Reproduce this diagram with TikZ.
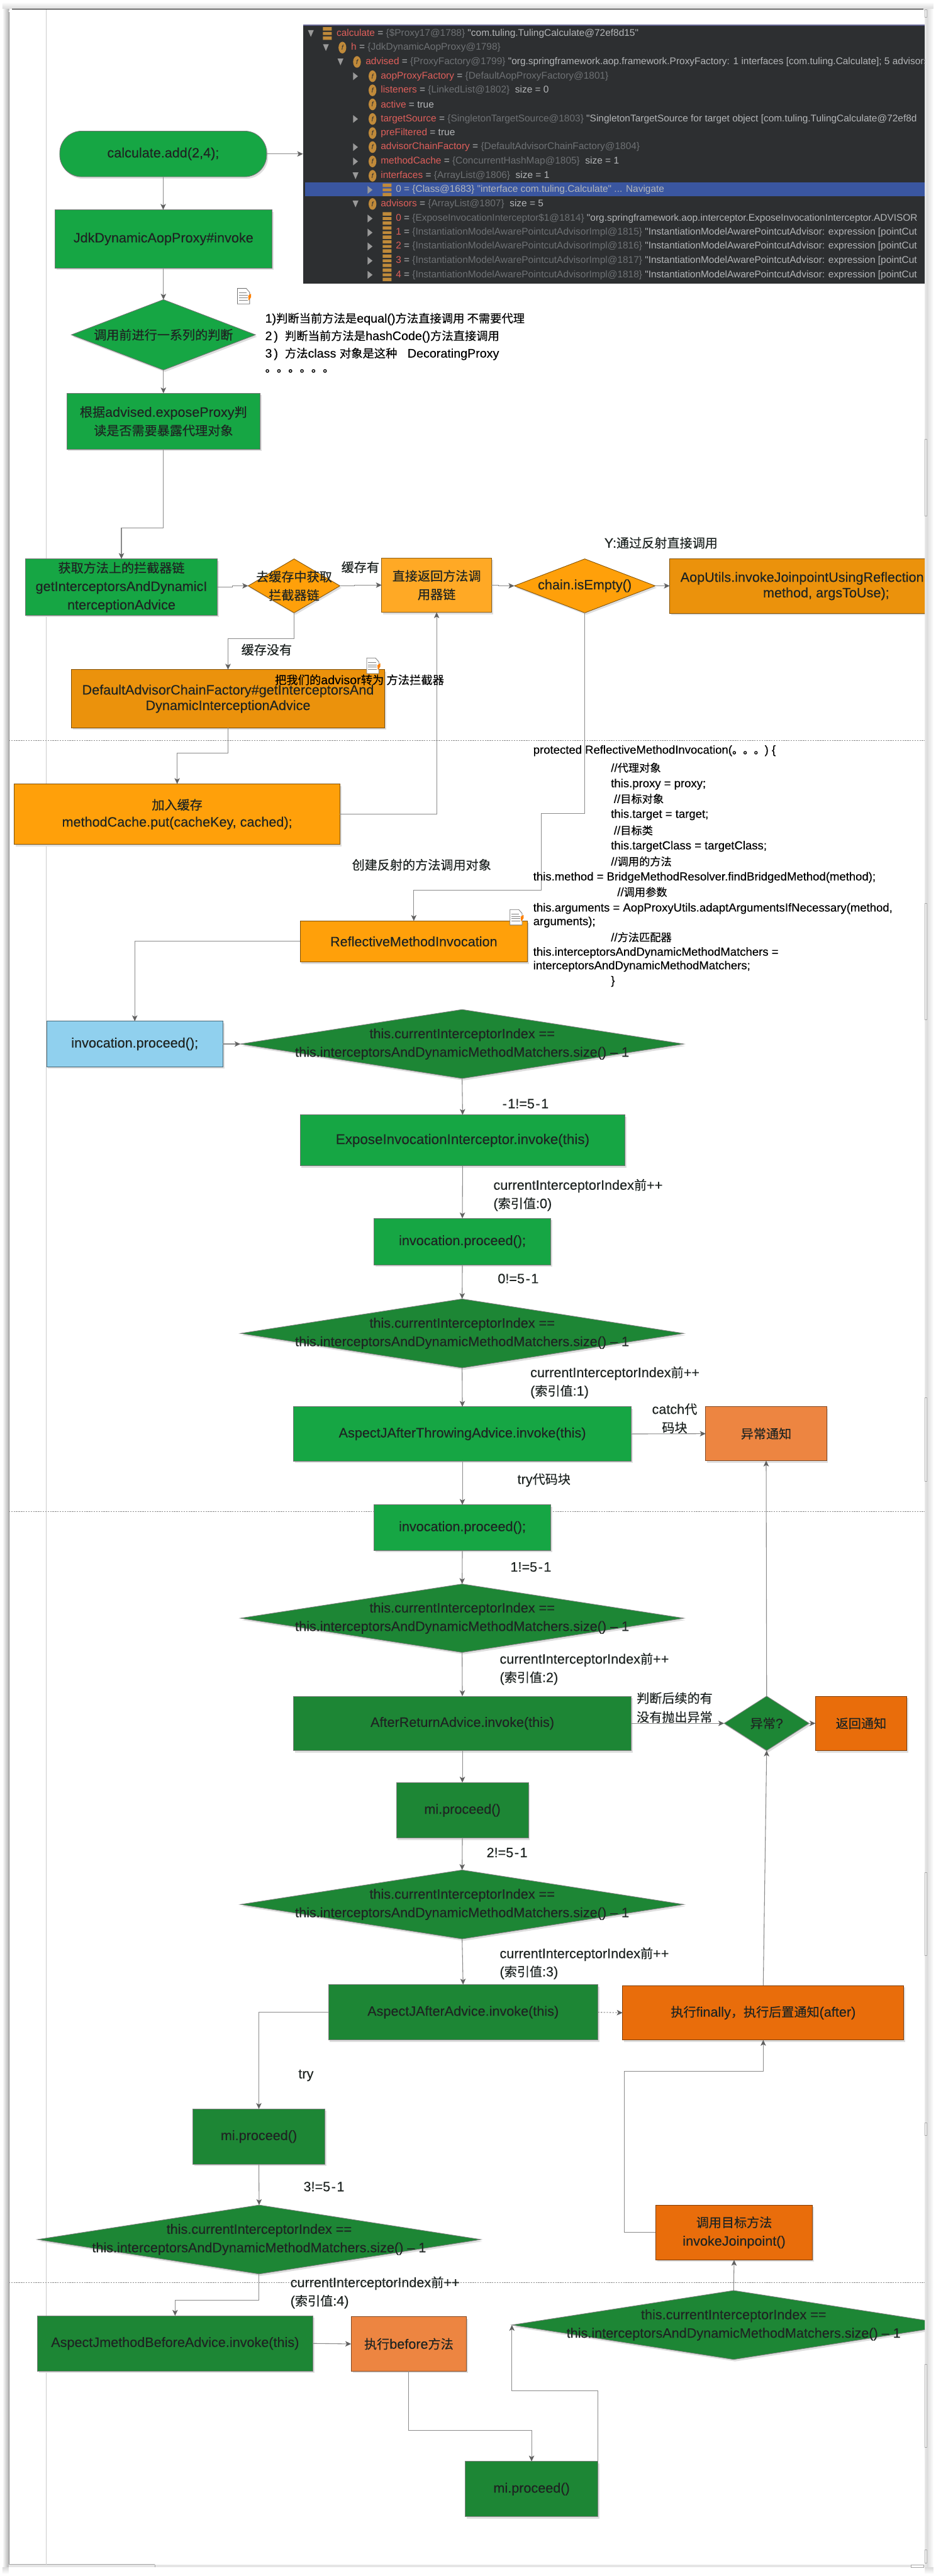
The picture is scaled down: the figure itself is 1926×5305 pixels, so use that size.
\documentclass[tikz,border=0pt]{standalone}
\usepackage{fontspec}
\usetikzlibrary{shapes.geometric,arrows.meta,shadows}
\setmainfont[FakeBold=0.25]{Liberation Sans}
\newfontfamily\panelfont{Liberation Sans}
\newfontfamily\cjkfont[Scale=0.93,FakeBold=0.3]{Noto Sans CJK SC}
\newcommand\zh[1]{{\cjkfont #1}}
\newcommand\fs[2]{\fontsize{#1}{#2}\selectfont}
\newcommand\hy{\hspace{.07em}-\hspace{.07em}}
\definecolor{gbright}{HTML}{16A644}
\definecolor{gdark}{HTML}{1D8635}
\definecolor{obright}{HTML}{FFA00A}
\definecolor{omid}{HTML}{EB920C}
\definecolor{olight}{HTML}{FFA925}
\definecolor{odeep}{HTML}{E96D0B}
\definecolor{opeach}{HTML}{ED8541}
\definecolor{skyb}{HTML}{90D0EE}
\definecolor{linegr}{HTML}{8A8A8A}
\definecolor{inkt}{HTML}{1E2422}
\definecolor{panelbg}{HTML}{2D2F31}
\definecolor{pred}{HTML}{DE5F5B}
\definecolor{pgrey}{HTML}{6E7174}
\definecolor{pwhite}{HTML}{B4B6B8}
\definecolor{pgold}{HTML}{C08A3A}
\definecolor{pblue}{HTML}{3A56A0}
\tikzset{
  x=1pt,y=-1pt,
  boxbase/.style={inner sep=0pt,outer sep=0pt,align=center,text=inkt,line width=1.1pt,
    general shadow={shadow xshift=3pt,shadow yshift=-4pt,fill=black!13,draw=none},
    font=\fs{28}{38}},
  gb/.style={boxbase,fill=gbright,draw=black!55},
  gd/.style={boxbase,fill=gdark,draw=black!50},
  ob/.style={boxbase,fill=obright,draw=black!50!obright},
  om/.style={boxbase,fill=omid,draw=black!45!omid},
  ol/.style={boxbase,fill=olight,draw=black!45!olight},
  od/.style={boxbase,fill=odeep,draw=black!45!odeep},
  op/.style={boxbase,fill=opeach,draw=black!45!opeach},
  sk/.style={boxbase,fill=skyb,draw=black!50!skyb},
  conn/.style={draw=linegr,line width=1.4pt,-{Stealth[length=12pt,width=11pt,inset=3pt,color=black!62]}},
  sep/.style={draw=black!45,line width=0.8pt,dash pattern=on 3pt off 2pt},
  lab/.style={inner sep=0pt,outer sep=0pt,text=inkt,font=\fs{28}{38},align=left},
  note/.style={inner sep=0pt,outer sep=0pt,text=black,font=\fs{25.5}{36},anchor=west},
  code/.style={inner sep=0pt,outer sep=0pt,text=black,font=\fs{24}{30},anchor=west},
  pt/.style={inner sep=0pt,outer sep=0pt,anchor=west,font=\panelfont\fs{20}{24},text=pwhite},
  edgebit/.style={fill=white,draw=black!35,line width=0.9pt},
}
\newcommand\bx[7]{%
  \pgfmathsetmacro\cxv{(#3+#5)/2}\pgfmathsetmacro\cyv{(#4+#6)/2}%
  \pgfmathsetmacro\wv{#5-#3}\pgfmathsetmacro\hv{#6-#4}%
  \node[#1,minimum width=\wv pt,minimum height=\hv pt] (#2) at (\cxv,\cyv) {#7};}
\newcommand\dm[7]{%
  \pgfmathsetmacro\cxv{(#3+#5)/2}\pgfmathsetmacro\cyv{(#4+#6)/2}%
  \pgfmathsetmacro\wv{#5-#3}\pgfmathsetmacro\hv{#6-#4}%
  \node[#1,shape=diamond,shape aspect=1,minimum width=\wv pt,minimum height=\hv pt] (#2) at (\cxv,\cyv) {};
  \node[inner sep=0pt,outer sep=0pt,align=center,text=inkt,font=\fs{28}{38}] (#2t) at (\cxv,\cyv) {#7};}
\newcommand\cond[4]{\dm{gd}{#1}{#2}{#3}{#2+913}{#4}{this.currentInterceptorIndex ==\\this.interceptorsAndDynamicMethodMatchers.size() -- 1}}
\newcommand\lb[4]{\node[lab] (#1) at (#2,#3) {#4};}
\newcommand\nt[4]{\node[note] (#1) at (#2,#3) {#4};}
\newcommand\cd[4]{\node[code] (#1) at (#2,#3) {#4};}
\newcommand\idx[5]{\node[lab,anchor=west] (#1a) at (#2,#3) {currentInterceptorIndex\zh{前}++};\node[lab,anchor=west] (#1b) at (#2,#4) {(\zh{索引值}:#5)};}
\newcommand\noteicon[2]{\begin{scope}[shift={(#1,#2)}]
  \fill[white,draw=black!55,line width=1pt] (0,0) -- (18,0) -- (25,8) -- (25,32) -- (0,32) -- cycle;
  \draw[black!50,line width=1.2pt] (3,9) -- (19,9) (3,14) -- (21,14) (3,19) -- (21,19) (3,24) -- (21,24);
  \fill[orange] (22,15) -- (28,11) -- (28,18) -- (23,25) -- cycle;
  \end{scope}}
\newcommand\ptri[2]{\fill[black!40] (#1-5,#2-8) -- (#1+5,#2) -- (#1-5,#2+8) -- cycle;}
\newcommand\dtri[2]{\fill[black!40] (#1-6,#2-7) -- (#1+6,#2-7) -- (#1,#2+7) -- cycle;}
\newcommand\ficon[2]{\fill[pgold] (#1,#2) ellipse [x radius=8pt,y radius=12pt];\node[inner sep=0pt,font=\panelfont\fs{14}{16}\itshape,text=panelbg] at (#1,#2) {f};}
\newcommand\sicon[2]{\fill[pgold] (#1-9,#2-13) rectangle (#1+9,#2-6) (#1-9,#2-3) rectangle (#1+9,#2+3) (#1+9,#2+6) rectangle (#1-9,#2+13);}
\newcommand\pr[4]{\node[pt] (#1) at (#2,#3) {#4};}
\newcommand\pn[1]{\textcolor{pred}{#1}}
\newcommand\pg[1]{\textcolor{pgrey}{#1}}
\begin{document}
\begin{tikzpicture}
\useasboundingbox (0,0) rectangle (1926,5305);
\fill[white] (0,0) rectangle (1926,5305);
% window shadow
\shade[left color=white,right color=black!32] (5,8) rectangle (19,5300);
\shade[left color=black!14,right color=white] (1908,8) rectangle (1922,5300);
\shade[top color=black!14,bottom color=white] (5,5287) rectangle (1922,5301);
\shade[top color=white,bottom color=black!14] (5,4) rectangle (1922,18);
\fill[white!90!black] (18,5270) rectangle (1908,5287);
\fill[white!90!black] (1890,18) rectangle (1908,5287);
\fill[white,rounded corners=6pt] (18,18) -- (1904,18) -- (1904,5400) -- (18,5400) -- cycle;
\fill[white!90!black] (18,5281) rectangle (1908,5287);
\draw[black!50,line width=1.1pt] (18.5,24) -- (18.5,5281);
\draw[black!35,line width=1.1pt] (18,5281.5) -- (319,5281.5);
\foreach \ya/\yb in {20/35,905/1063,1860/2100,2878/3050,3856/4027,4371/4398,4869/5040,5251/5278}
  \draw[edgebit] (1904.5,\ya) rectangle (1908,\yb);
\draw[edgebit] (1876,5281.5) rectangle (1902,5287);
\draw[edgebit] (319,5281.5) -- (319,5287);
\begin{scope}
\clip (18,18) rectangle (1904,5281);
\draw[black,line width=1.4pt] (25,18.7) -- (1901,18.7);
\draw[black!20,line width=1pt] (94.5,19) -- (94.5,5281);
\draw[sep] (18,1525) -- (1904,1525);
\draw[sep] (18,3113) -- (1904,3113);
\draw[sep] (18,4700) -- (1904,4700);

% debugger panel
\node[fill=panelbg,inner sep=0pt,outer sep=0pt,minimum width=1280pt,minimum height=534pt] (panel) at (1264,317) {};
\fill[black!70!blue!60] (624,50) rectangle (1904,53);
\fill[pblue] (628,375) rectangle (1904,404);
\dtri{640}{69}\sicon{674}{69}
\pr{p1}{693}{69}{\pn{calculate} = \pg{\{\$Proxy17@1788\}} "com.tuling.TulingCalculate@72ef8d15"}
\dtri{671}{98}\ficon{705}{98}
\pr{p2}{723}{98}{\pn{h} = \pg{\{JdkDynamicAopProxy@1798\}}}
\dtri{701}{127.5}\ficon{735}{127.5}
\pr{p3}{753}{127.5}{\pn{advised} = \pg{\{ProxyFactory@1799\}} "org.springframework.aop.framework.ProxyFactory: 1 interfaces [com.tuling.Calculate]; 5 advisors}
\ptri{732}{157}\ficon{767}{157}
\pr{p4}{784}{157}{\pn{aopProxyFactory} = \pg{\{DefaultAopProxyFactory@1801\}}}
\ficon{767}{186}
\pr{p5}{784}{186}{\pn{listeners} = \pg{\{LinkedList@1802\}}\ \ size = 0}
\ficon{767}{215}
\pr{p6}{784}{215}{\pn{active} = true}
\ptri{732}{245}\ficon{767}{245}
\pr{p7}{784}{245}{\pn{targetSource} = \pg{\{SingletonTargetSource@1803\}} "SingletonTargetSource for target object [com.tuling.TulingCalculate@72ef8d}
\ficon{767}{274}
\pr{p8}{784}{274}{\pn{preFiltered} = true}
\ptri{732}{303}\ficon{767}{303}
\pr{p9}{784}{303}{\pn{advisorChainFactory} = \pg{\{DefaultAdvisorChainFactory@1804\}}}
\ptri{732}{332.5}\ficon{767}{332.5}
\pr{p10}{784}{332.5}{\pn{methodCache} = \pg{\{ConcurrentHashMap@1805\}}\ \ size = 1}
\dtri{732}{362}\ficon{767}{362}
\pr{p11}{784}{362}{\pn{interfaces} = \pg{\{ArrayList@1806\}}\ \ size = 1}
\ptri{762}{391}\sicon{797}{391}
\pr{p12}{815}{391}{0 = \{Class@1683\} "interface com.tuling.Calculate" ... Navigate}
\dtri{732}{420}\ficon{767}{420}
\pr{p13}{784}{420}{\pn{advisors} = \pg{\{ArrayList@1807\}}\ \ size = 5}
\ptri{762}{450}\sicon{797}{450}
\pr{p14}{815}{450}{\pn{0} = \pg{\{ExposeInvocationInterceptor\$1@1814\}} "org.springframework.aop.interceptor.ExposeInvocationInterceptor.ADVISOR}
\ptri{762}{479}\sicon{797}{479}
\pr{p15}{815}{479}{\pn{1} = \pg{\{InstantiationModelAwarePointcutAdvisorImpl@1815\}} "InstantiationModelAwarePointcutAdvisor: expression [pointCut}
\ptri{762}{507.5}\sicon{797}{507.5}
\pr{p16}{815}{507.5}{\pn{2} = \pg{\{InstantiationModelAwarePointcutAdvisorImpl@1816\}} "InstantiationModelAwarePointcutAdvisor: expression [pointCut}
\ptri{762}{537}\sicon{797}{537}
\pr{p17}{815}{537}{\pn{3} = \pg{\{InstantiationModelAwarePointcutAdvisorImpl@1817\}} "InstantiationModelAwarePointcutAdvisor: expression [pointCut}
\ptri{762}{566}\sicon{797}{566}
\pr{p18}{815}{566}{\pn{4} = \pg{\{InstantiationModelAwarePointcutAdvisorImpl@1818\}} "InstantiationModelAwarePointcutAdvisor: expression [pointCut}

% top flow
\bx{gb,rounded corners=45pt}{start}{123}{270}{549}{364}{calculate.add(2,4);}
\bx{gb}{jdk}{113}{432}{560}{552}{JdkDynamicAopProxy\#invoke}
\dm{gb}{d1}{147}{617}{526}{762}{\zh{调用前进行一系列的判断}}
\bx{gb}{gen}{137.5}{810}{535.5}{925}{\zh{根据}advised.exposeProxy\zh{判}\\\zh{读是否需要暴露代理对象}}
\bx{gb}{getint}{52}{1151}{448}{1267}{\zh{获取方法上的拦截器链}\\getInterceptorsAndDynamicI\\nterceptionAdvice}
\dm{ob}{cached}{511}{1151}{700}{1262}{\zh{去缓存中获取}\\\zh{拦截器链}}
\bx{ol}{direct}{786}{1149}{1012}{1261}{\zh{直接返回方法调}\\\zh{用器链}}
\dm{ob}{chain}{1059}{1151}{1349}{1262}{chain.isEmpty()}
\bx{om}{aop}{1379}{1151}{2023}{1263}{}
\node[inner sep=0pt,outer sep=0pt,anchor=west,text=inkt,font=\fs{28}{38}] (aopa) at (1401,1191) {AopUtils.invokeJoinpointUsingReflection};
\node[inner sep=0pt,outer sep=0pt,text=inkt,font=\fs{28}{38}] (aopb) at (1701,1223) {method, argsToUse);};
\bx{om,font=\fs{28}{32}}{def}{147}{1379}{792}{1499}{DefaultAdvisorChainFactory\#getInterceptorsAnd\\DynamicInterceptionAdvice}
\bx{ob,font=\fs{28}{35}}{add}{29.5}{1614.5}{700}{1739}{\zh{加入缓存}\\methodCache.put(cacheKey, cached);}
\bx{ob}{refl}{618}{1896.5}{1086}{1981}{ReflectiveMethodInvocation}
\bx{sk}{inv}{96}{2103}{459}{2197}{invocation.proceed();}
\cond{d2}{495}{2079}{2221}
\bx{gb,font=\fs{29}{38}}{expose}{618}{2296}{1287}{2401}{ExposeInvocationInterceptor.invoke(this)}
\bx{gb}{proc1}{770}{2509}{1134}{2605}{invocation.proceed();}
\cond{d3}{495}{2675}{2817}
\bx{gb}{ath}{604}{2897}{1300}{3009}{AspectJAfterThrowingAdvice.invoke(this)}
\bx{op}{exc}{1453}{2897}{1702}{3008}{\zh{异常通知}}
\bx{gb}{proc2}{770}{3099}{1134}{3193}{invocation.proceed();}
\cond{d4}{495}{3262}{3403}
\bx{gd}{after}{604}{3493}{1300}{3605}{AfterReturnAdvice.invoke(this)}
\dm{gd}{excq}{1491}{3493}{1666}{3605}{\zh{异常}?}
\bx{od}{ret}{1679}{3493}{1867}{3605}{\zh{返回通知}}
\bx{gd}{mi1}{816}{3671}{1088}{3785}{mi.proceed()}
\cond{d5}{495}{3851}{3993}
\bx{gd}{aft}{676}{4087}{1231}{4201}{AspectJAfterAdvice.invoke(this)}
\bx{od}{fin}{1282}{4089}{1861}{4201}{\zh{执行}finally\zh{，执行后置通知}(after)}
\bx{gd}{mi2}{397}{4343}{669}{4457}{mi.proceed()}
\cond{d6}{77}{4541}{4683}
\bx{gd}{bef}{77}{4769}{644}{4883}{AspectJmethodBeforeAdvice.invoke(this)}
\bx{op}{before}{723}{4771}{960.5}{4883}{\zh{执行}before\zh{方法}}
\bx{gd}{mi3}{958}{5069}{1231}{5183}{mi.proceed()}
\cond{d7}{1054}{4717}{4859}
\bx{od}{call}{1350}{4541}{1673}{4654}{\zh{调用目标方法}\\invokeJoinpoint()}

% connectors
\draw[conn] (start.east) -- (panel.west |- start.east);
\draw[conn] (start.south) -- (jdk.north -| start.south);
\draw[conn] (jdk.south -| d1.north) -- (d1.north);
\draw[conn] (d1.south) -- (gen.north -| d1.south);
\draw[conn] (gen.south) -- ++(0,162) -| (getint.north);
\draw[conn] (getint.east) -- ++(30,0) |- (cached.west);
\draw[conn] (cached.east) -- ++(30,0) |- (direct.west);
\draw[conn] (direct.east) -- ++(14,0) |- (chain.west);
\draw[conn] (chain.east) -- (aop.west |- chain.east);
\draw[conn] (cached.south) -- ++(0,53) -| (def.north);
\draw[conn] (def.south) -- ++(0,52) -| (add.north);
\draw[conn] (add.east) -| (direct.south);
\draw[conn] (chain.south) -- ++(0,413) -- ++(-90,0) -- ++(0,158) -| (refl.north);
\draw[conn] (refl.west) -| (inv.north);
\draw[conn] (inv.east) -- (d2.west);
\draw[conn] (d2.south) -- (expose.north);
\draw[conn] (expose.south) -- (proc1.north);
\draw[conn] (proc1.south) -- (d3.north);
\draw[conn] (d3.south) -- (ath.north);
\draw[conn] (ath.east) -- (exc.west);
\draw[conn] (ath.south) -- (proc2.north);
\draw[conn] (proc2.south) -- (d4.north);
\draw[conn] (d4.south) -- (after.north);
\draw[conn] (after.east) -- (excq.west);
\draw[conn] (excq.east) -- (ret.west);
\draw[conn] (excq.north) -- (exc.south);
\draw[conn] (after.south) -- (mi1.north);
\draw[conn] (mi1.south) -- (d5.north);
\draw[conn] (d5.south) -- (aft.north);
\draw[conn,dashed] (aft.east) -- (fin.west);
\draw[conn] (fin.north) -- (excq.south);
\draw[conn] (aft.west) -| (mi2.north);
\draw[conn] (mi2.south) -- (d6.north);
\draw[conn] (d6.south) -- ++(0,53.5) -| (bef.north);
\draw[conn] (bef.east) -- (before.west);
\draw[conn] (before.south) -- ++(0,122) -| (mi3.north);
\draw[conn] (mi3.north east) -- ++(0,-146) -| (d7.west);
\draw[conn] (d7.north) -- (call.south);
\draw[conn] (call.west) -- ++(-64,0) -- ++(0,-332) -| (fin.south);

% notes
\noteicon{489}{594}
\noteicon{755}{1355}
\noteicon{1050}{1873}
\nt{n1}{546}{657}{1)\zh{判断当前方法是}equal()\zh{方法直接调用 不需要代理}}
\nt{n2}{546}{693}{2\hspace{.15em})\ \ \zh{判断当前方法是}hashCode()\zh{方法直接调用}}
\nt{n3}{546}{729}{3\hspace{.15em})\ \ \zh{方法}class \zh{对象是这种}\ \ \ DecoratingProxy}
\nt{n4}{546}{764}{\zh{。。。。。。}}
\lb{l1}{742}{1168}{\zh{缓存有}}
\lb{l2}{1361}{1118}{Y:\zh{通过反射直接调用}}
\lb{l3}{549}{1338}{\zh{缓存没有}}
\nt{l4}{566}{1400}{\zh{把我们的}advisor\zh{转为 方法拦截器}}
\lb{l5}{868}{1781}{\zh{创建反射的方法调用对象}}
\cd{c1}{1098}{1546}{protected ReflectiveMethodInvocation(\zh{。。。}) \{}
\cd{c2}{1258}{1581}{//\zh{代理对象}}
\cd{c3}{1258}{1615}{this.proxy = proxy;}
\cd{c4}{1264}{1645}{//\zh{目标对象}}
\cd{c5}{1258}{1678}{this.target = target;}
\cd{c6}{1264}{1710}{//\zh{目标类}}
\cd{c7}{1258}{1743}{this.targetClass = targetClass;}
\cd{c8}{1258}{1774}{//\zh{调用的方法}}
\cd{c9}{1098}{1807}{this.method = BridgeMethodResolver.findBridgedMethod(method);}
\cd{c10}{1271}{1837}{//\zh{调用参数}}
\cd{c11}{1098}{1871}{this.arguments = AopProxyUtils.adaptArgumentsIfNecessary(method,}
\cd{c12}{1098}{1899}{arguments);}
\cd{c13}{1258}{1930}{//\zh{方法匹配器}}
\cd{c14}{1098}{1962}{this.interceptorsAndDynamicMethodMatchers =}
\cd{c15}{1098}{1990}{interceptorsAndDynamicMethodMatchers;}
\cd{c16}{1258}{2021}{\}}
\lb{l6}{1081}{2273}{\hy 1!=5\hy 1}
\idx{i0}{1016}{2442}{2480}{0}
\lb{l7}{1067}{2633}{0!=5\hy 1}
\idx{i1}{1092}{2828}{2866}{1}
\lb{l8}{1389}{2902}{catch\zh{代}}
\lb{l9}{1389}{2940}{\zh{码块}}
\lb{l10}{1120}{3048}{try\zh{代码块}}
\lb{l11}{1093}{3227}{1!=5\hy 1}
\idx{i2}{1029}{3418}{3456}{2}
\lb{l12}{1389}{3497}{\zh{判断后续的有}}
\lb{l13}{1389}{3536}{\zh{没有抛出异常}}
\lb{l14}{1044}{3815}{2!=5\hy 1}
\idx{i3}{1029}{4024.5}{4062}{3}
\lb{l15}{630}{4274}{try}
\lb{l16}{667}{4503}{3!=5\hy 1}
\idx{i4}{598}{4702}{4740}{4}
\end{scope}
\end{tikzpicture}
\end{document}
